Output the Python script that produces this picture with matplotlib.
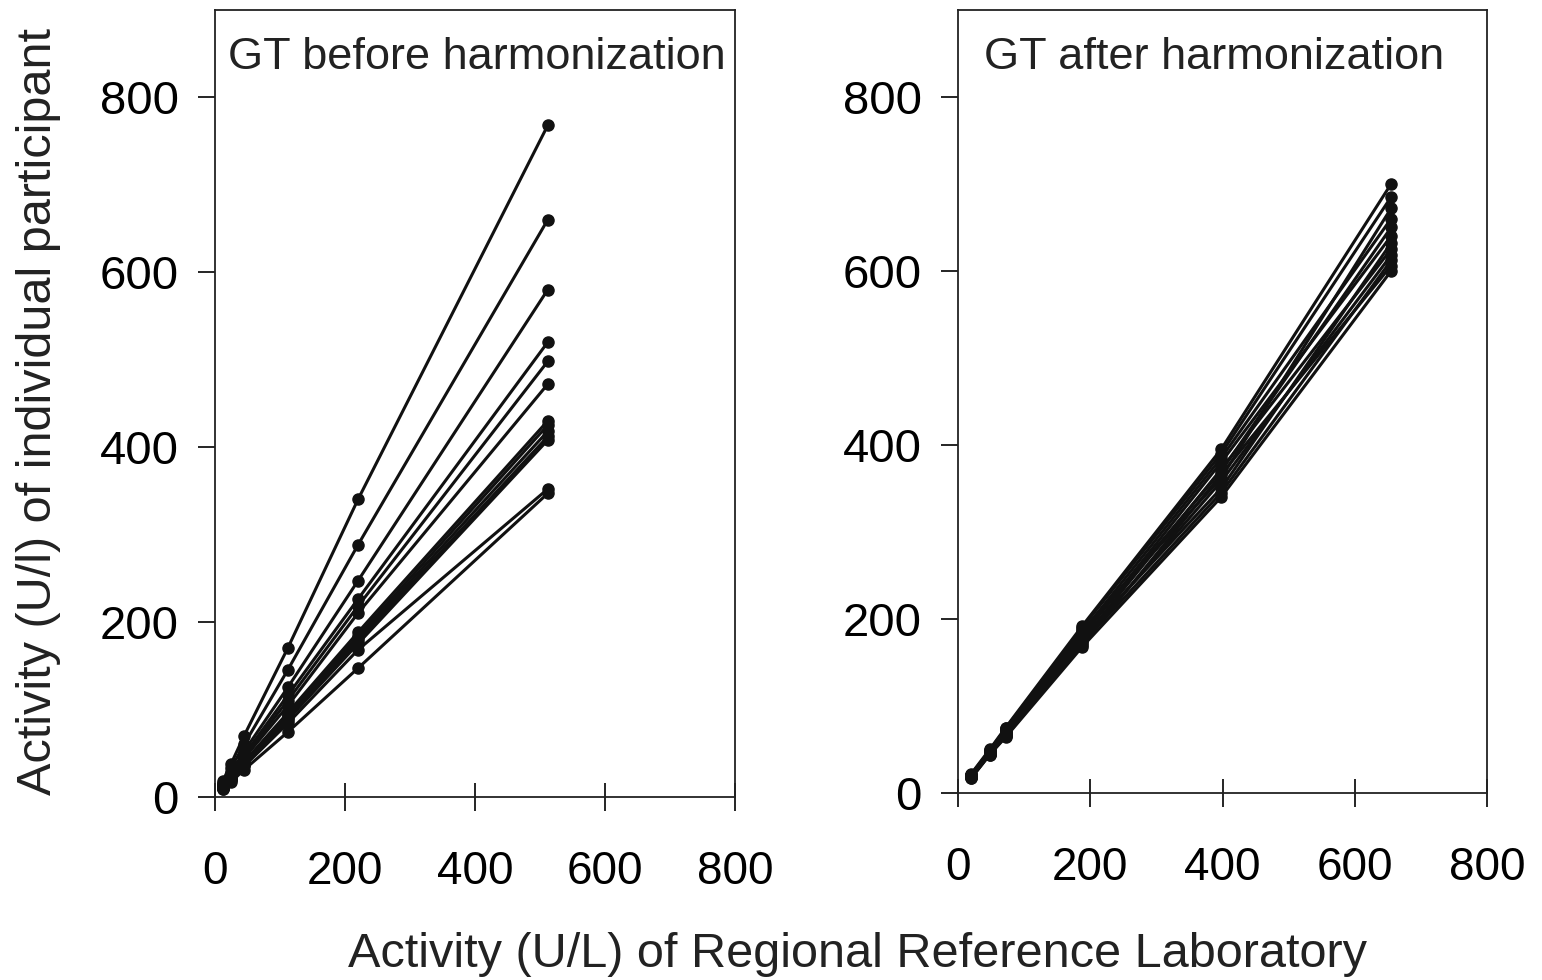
import numpy as np
import matplotlib.pyplot as plt

plt.rcParams['font.family'] = ['Liberation Sans', 'DejaVu Sans']

# before harmonization: reference lab activity and participant results
x_before = [12, 25, 45, 112, 220, 512]
y_before = [
    [18, 38, 70, 170, 340, 768],
    [16, 33, 60, 145, 288, 660],
    [14, 28, 52, 125, 247, 580],
    [13, 26, 48, 116, 226, 520],
    [12, 25, 46, 110, 218, 498],
    [12, 24, 44, 104, 210, 472],
    [11, 22, 40, 96, 188, 430],
    [10, 21, 39, 94, 184, 425],
    [10, 21, 38, 92, 181, 418],
    [10, 20, 37, 90, 178, 412],
    [9, 20, 36, 88, 175, 408],
    [10, 19, 35, 84, 168, 352],
    [9, 17, 31, 74, 147, 347],
]

# after harmonization
x_after = [20, 48, 72, 188, 398, 655]
y_after = [
    [22, 50, 75, 192, 395, 700],
    [21, 49, 74, 190, 390, 685],
    [21, 48, 73, 187, 362, 672],
    [20, 48, 72, 185, 385, 660],
    [20, 47, 71, 182, 370, 650],
    [19, 47, 70, 180, 380, 640],
    [19, 46, 69, 178, 350, 632],
    [18, 46, 68, 176, 372, 625],
    [18, 45, 67, 174, 358, 618],
    [18, 45, 66, 172, 345, 612],
    [17, 44, 65, 170, 366, 606],
    [17, 44, 64, 168, 340, 600],
]

fig = plt.figure(figsize=(15.42, 9.8), dpi=100)
ax1 = fig.add_axes([0.1394, 0.187, 0.3373, 0.803])
ax2 = fig.add_axes([0.6213, 0.191, 0.3431, 0.799])

for ax, xs, ys, title, tx in [(ax1, x_before, y_before, 'GT before harmonization', 0.025),
                              (ax2, x_after, y_after, 'GT after harmonization', 0.05)]:
    for row in ys:
        ax.plot(xs, row, color='#111111', lw=2.2, marker='o', ms=8, mfc='#111111', mec='#111111')
    ax.set_xlim(0, 800)
    ax.set_ylim(0, 900)
    ax.set_xticks([0, 200, 400, 600, 800])
    ax.set_yticks([0, 200, 400, 600, 800])
    ax.tick_params(axis='x', direction='inout', length=20, width=1.2, pad=28, labelsize=33)
    ax.tick_params(axis='y', direction='out', length=12, width=1.2, pad=14, labelsize=34)
    for s in ax.spines.values():
        s.set_linewidth(1.3)
        s.set_color('#222222')
    ax.text(tx, 0.965, title, transform=ax.transAxes, va='top', ha='left', fontsize=32.5, color='#222222')

fig.text(0.556, 0.026, 'Activity (U/L) of Regional Reference Laboratory', ha='center', va='center',
         fontsize=35, color='#222222')
fig.text(0.025, 0.58, 'Activity (U/l) of individual participant', ha='center', va='center',
         rotation=90, fontsize=35, color='#222222')

fig.savefig('out.png', dpi=100, facecolor='white')
